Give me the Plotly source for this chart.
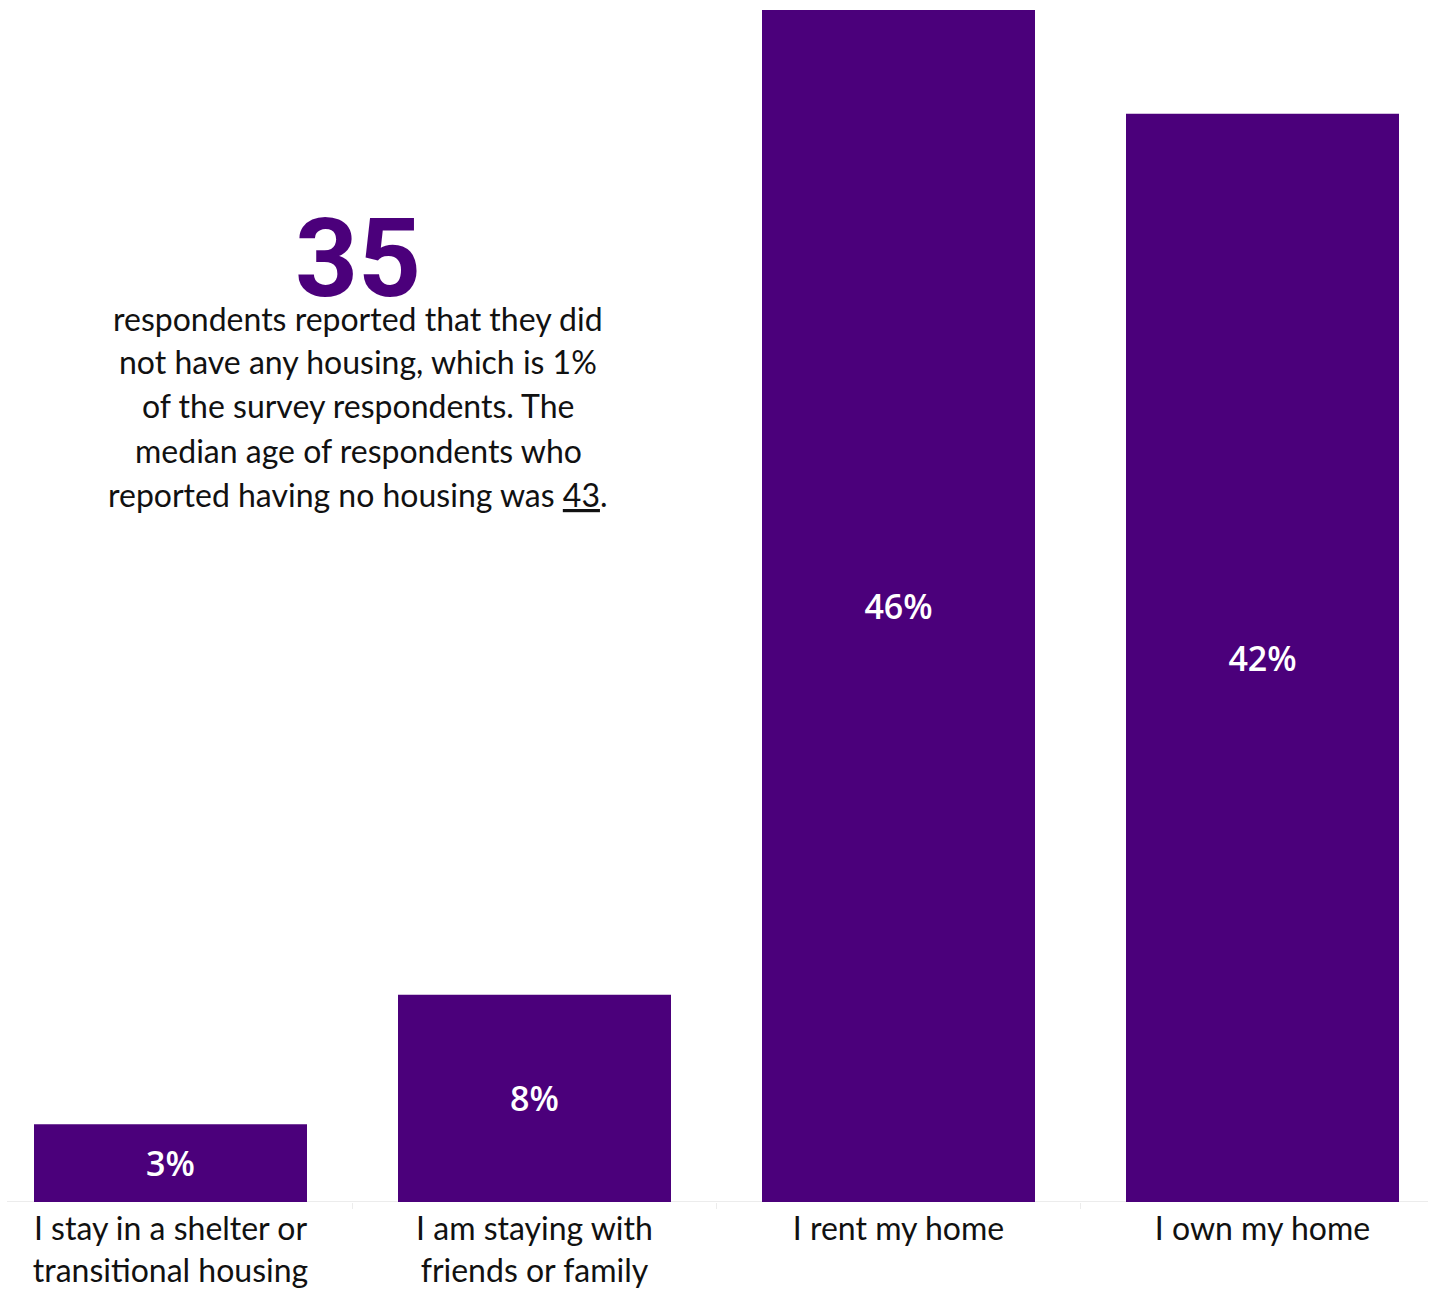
import plotly.graph_objects as go

# Housing situation of survey respondents (share, %)
categories = [
    "I stay in a shelter or<br>transitional housing",
    "I am staying with<br>friends or family",
    "I rent my home",
    "I own my home",
]
shares = [3, 8, 46, 42]

headline_number = "35"
headline_lines = [
    "respondents reported that they did",
    "not have any housing, which is 1%",
    "of the survey respondents. The",
    "median age of respondents who",
    "reported having no housing was "
    "<span style=\"text-decoration:underline\">43</span>.",
]

PURPLE = "#4b007b"
W, H = 1434, 1291
BOTTOM = 89
PLOT_H = H - BOTTOM

fig = go.Figure(
    go.Bar(
        x=categories,
        y=shares,
        width=0.75,
        marker=dict(color=PURPLE, line=dict(width=0)),
        texttemplate="%{y}%",
        textposition="inside",
        insidetextanchor="middle",
        textangle=0,
        constraintext="none",
        textfont=dict(family="Open Sans", size=34, color="white", weight=600),
        hoverinfo="skip",
    )
)

# horizontal range so that each category slot is 364 px wide
slot = 364.0
first_center = 170.5
x0 = -first_center / slot
x1 = (W - first_center) / slot


def py(pixel_y):
    """Convert a pixel row (from the top) to paper coordinates."""
    return 1 - pixel_y / PLOT_H


annotations = [
    dict(
        text="<b>" + headline_number + "</b>",
        xref="paper",
        yref="paper",
        x=358 / W,
        y=py(258),
        xanchor="center",
        yanchor="middle",
        showarrow=False,
        font=dict(family="Roboto", size=110, color=PURPLE, weight=900),
    )
]
# paragraph lines, 44 px apart
for i, line in enumerate(headline_lines):
    annotations.append(
        dict(
            text=line,
            xref="paper",
            yref="paper",
            x=358 / W,
            y=py(318 + 44 * i),
            xanchor="center",
            yanchor="middle",
            align="center",
            showarrow=False,
            font=dict(family="Lato", size=32, color="#111111"),
        )
    )

fig.update_layout(
    width=W,
    height=H,
    margin=dict(l=0, r=0, t=0, b=BOTTOM, pad=0),
    paper_bgcolor="white",
    plot_bgcolor="white",
    showlegend=False,
    bargap=0.25,
    xaxis=dict(
        range=[x0, x1],
        showgrid=False,
        zeroline=False,
        showline=False,
        ticks="outside",
        tickson="boundaries",
        ticklen=6,
        tickwidth=1,
        tickcolor="#ececec",
        ticklabelstandoff=5,
        tickfont=dict(family="Lato", size=32, color="#111111"),
        fixedrange=True,
    ),
    yaxis=dict(
        range=[0, 46 * PLOT_H / 1192.0],
        visible=False,
        fixedrange=True,
    ),
    shapes=[
        dict(
            type="line",
            xref="paper",
            yref="y",
            x0=7 / W,
            x1=1428 / W,
            y0=0,
            y1=0,
            line=dict(color="#ececec", width=2),
            layer="below",
        )
    ],
    annotations=annotations,
)

fig.write_html("out.html")
